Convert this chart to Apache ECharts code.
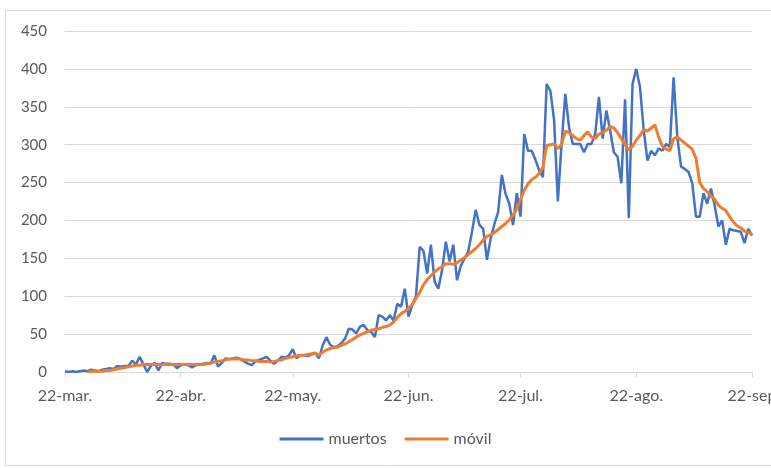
<!DOCTYPE html>
<html>
<head>
<meta charset="utf-8">
<script src="https://cdn.jsdelivr.net/npm/echarts@6/dist/echarts.min.js"></script>
<style>
html,body{margin:0;padding:0;background:#fff;}
#chart{width:771px;height:468px;}
</style>
</head>
<body>
<div id="chart"></div>
<script>
// Daily values from 22-mar to 22-sep (185 days)
const startDate = [2020, 2, 22];
const dayCount = 185;
const tickLabels = ['22-mar.', '22-abr.', '22-may.', '22-jun.', '22-jul.', '22-ago.', '22-sep'];
const seriesNames = ['muertos', 'móvil'];

const muertos = [
  1,0,1,0,1,2,1,3,2,1,
  3,4,5,4,8,7,8,8,15,10,
  20,10,0,8,12,2,12,11,11,10,
  5,9,10,9,6,9,10,11,12,11,
  22,7,12,18,17,18,19,17,14,11,
  9,14,16,18,20,15,11,15,20,19,
  22,30,18,22,22,21,23,25,18,35,
  46,36,33,34,38,44,57,56,51,60,
  62,55,53,46,75,73,68,75,68,90,
  86,110,73,88,100,165,160,130,168,119,
  110,135,172,146,168,121,140,150,159,185,
  214,194,189,148,176,195,211,260,235,222,
  194,236,205,314,292,292,280,266,257,380,
  371,332,225,301,367,323,301,301,301,290,
  301,301,314,363,308,345,319,290,284,249,
  360,203,380,400,376,319,279,292,286,295,
  292,301,297,389,310,271,268,264,249,205,
  205,236,222,242,220,192,200,168,189,187,
  186,185,170,189,180
];

const movil = [
  null,null,null,null,null,null,0,1,1,1,
  1,2,2,3,4,5,6,7,8,9,
  9,10,10,10,10,10,10,10,10,10,
  10,10,10,10,10,10,10,10,11,12,
  13,14,15,16,17,17,17,17,16,16,
  15,15,14,14,14,13,14,15,16,18,
  19,20,21,22,22,23,24,25,22,26,
  29,31,32,33,35,37,40,43,46,49,
  51,53,55,56,57,59,60,62,66,72,
  77,80,84,89,97,105,115,122,127,132,
  136,139,143,143,142,144,148,151,155,159,
  163,168,174,179,181,184,188,192,196,201,
  207,215,228,240,248,254,257,262,270,299,
  300,301,295,300,318,316,312,308,306,312,
  317,310,308,314,316,319,324,322,316,308,
  300,293,298,306,312,320,318,322,326,310,
  298,294,292,308,310,306,302,298,294,282,
  250,242,238,232,228,220,216,213,205,198,
  193,190,186,184,182
];

// category dates
const dates = [];
for (let i = 0; i < dayCount; i++) {
  dates.push(new Date(startDate[0], startDate[1], startDate[2] + i));
}
const categories = dates.map(d => d.getFullYear() + '-' + (d.getMonth() + 1) + '-' + d.getDate());
const tickIdx = [];
dates.forEach((d, i) => { if (d.getDate() === 22) tickIdx.push(i); });
const isTick = (i) => tickIdx.indexOf(i) >= 0;

const chart = echarts.init(document.getElementById('chart'), null, {renderer: 'canvas'});
const font = 'Lato';
chart.setOption({
  animation: false,
  backgroundColor: '#ffffff',
  graphic: [{
    type: 'rect',
    shape: {x: 5.5, y: 10.5, width: 800, height: 455},
    style: {fill: 'none', stroke: '#d9d9d9', lineWidth: 1},
    silent: true
  }],
  grid: {left: 65, right: 19, top: 31, bottom: 96, containLabel: false, outerBoundsMode: 'none'},
  legend: {
    bottom: 16,
    left: 'center',
    icon: 'rect',
    itemWidth: 44,
    itemHeight: 3,
    itemGap: 18,
    textStyle: {color: '#595959', fontFamily: font, fontSize: 16},
    data: seriesNames
  },
  xAxis: {
    type: 'category',
    data: categories,
    boundaryGap: false,
    axisLine: {lineStyle: {color: '#d9d9d9', width: 1}},
    axisTick: {show: true, interval: (i) => isTick(i), length: 5, lineStyle: {color: '#d9d9d9'}},
    axisLabel: {
      interval: (i) => isTick(i),
      formatter: (v, i) => tickLabels[tickIdx.indexOf(i)] || '',
      color: '#595959', fontFamily: font, fontSize: 16, margin: 16,
      showMaxLabel: true
    },
    splitLine: {show: false}
  },
  yAxis: {
    type: 'value',
    min: 0, max: 450, interval: 50,
    axisLine: {show: false},
    axisTick: {show: false},
    axisLabel: {color: '#595959', fontFamily: font, fontSize: 15, margin: 18},
    splitLine: {lineStyle: {color: '#d9d9d9', width: 1}}
  },
  series: [
    {
      name: seriesNames[0], type: 'line', data: muertos,
      symbol: 'none', showSymbol: false,
      lineStyle: {color: '#4472C4', width: 2.5},
      itemStyle: {color: '#4472C4'}
    },
    {
      name: seriesNames[1], type: 'line', data: movil,
      symbol: 'none', showSymbol: false,
      lineStyle: {color: '#ED7D31', width: 3},
      itemStyle: {color: '#ED7D31'}
    }
  ]
});
</script>
</body>
</html>
